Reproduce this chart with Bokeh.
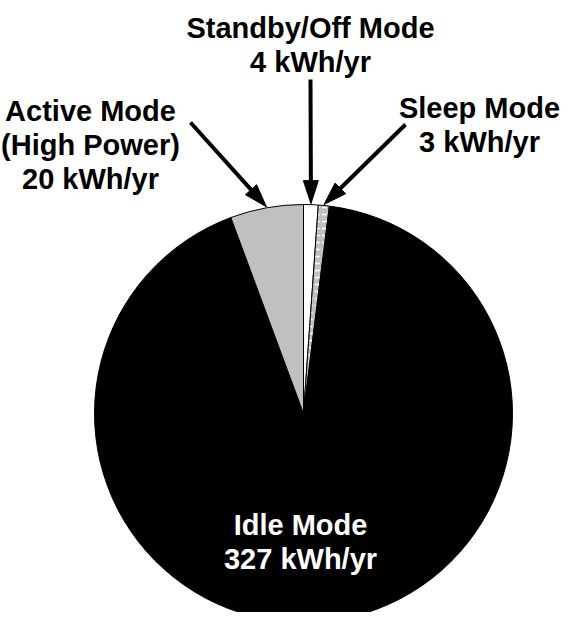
import numpy as np
from bokeh.plotting import figure
from bokeh.models import Range1d
from bokeh.embed import file_html
from bokeh.resources import INLINE
from bokeh.core.properties import value

# ---- data ----
modes = ["Standby/Off Mode", "Sleep Mode", "Idle Mode", "Active Mode (High Power)"]
kwh = [4, 3, 327, 20]
label_lines = [["Standby/Off Mode"], ["Sleep Mode"], ["Idle Mode"], ["Active Mode", "(High Power)"]]
unit = "kWh/yr"
fill_colors = ["white", "#c0c0c0", "black", "#c0c0c0"]
hatches = ["blank", "horizontal_dash", "blank", "blank"]
text_colors = ["black", "black", "white", "black"]

# ---- layout (page pixel positions) ----
W, H = 564, 612


def px(x):
    return x - 8


def py(y):
    return 620 - y


cx, cy, R = px(311), py(421), 209
label_pos = [(318, 35), (487, 115), (308, 532), (98, 118)]  # first baseline
line_step = 34
arrow_from = {0: (318, 87), 1: (413, 132), 3: (198, 130)}

vals = np.array(kwh, dtype=float)
ang = vals / vals.sum() * 2 * np.pi
cum = np.cumsum(ang)
start = np.pi / 2 - np.concatenate([[0.0], cum[:-1]])
end = np.pi / 2 - cum
mid = (start + end) / 2

p = figure(width=W, height=H, x_range=Range1d(0, W), y_range=Range1d(0, H),
           output_backend="svg", toolbar_location=None,
           x_axis_location=None, y_axis_location=None, min_border=0,
           outline_line_color=None)
p.xgrid.visible = False
p.ygrid.visible = False
p.background_fill_color = "white"
p.border_fill_color = "white"

p.wedge(x=cx, y=cy, radius=R, start_angle=list(start), end_angle=list(end),
        direction="clock", fill_color=fill_colors, line_color="black",
        line_width=1, hatch_pattern=hatches, hatch_color="white",
        hatch_scale=7, hatch_weight=1.5)

# labels
xs, ys, ts, cs = [], [], [], []
for i, lines in enumerate(label_lines):
    allines = lines + [f"{kwh[i]} {unit}"]
    lx, ly = label_pos[i]
    for j, t in enumerate(allines):
        xs.append(px(lx))
        ys.append(py(ly + j * line_step))
        ts.append(t)
        cs.append(text_colors[i])
p.text(x=xs, y=ys, text=ts, text_color=cs, text_align="center",
       text_baseline="alphabetic", text_font=value("Liberation Sans"),
       text_font_style="bold", text_font_size="29px")

# arrows
sx0, sy0, sx1, sy1 = [], [], [], []
hx, hy = [], []
head_len, head_half = 23, 7.5
for i, (ax, ay) in arrow_from.items():
    tx = cx + (R + 1) * np.cos(mid[i])
    ty = cy + (R + 1) * np.sin(mid[i])
    ox, oy = px(ax), py(ay)
    d = np.array([tx - ox, ty - oy])
    d = d / np.hypot(*d)
    n = np.array([-d[1], d[0]])
    bx, by = tx - head_len * d[0], ty - head_len * d[1]
    sx0.append(ox); sy0.append(oy)
    sx1.append(bx + 2 * d[0]); sy1.append(by + 2 * d[1])
    hx.append([tx, bx + head_half * n[0], bx - head_half * n[0]])
    hy.append([ty, by + head_half * n[1], by - head_half * n[1]])
p.segment(x0=sx0, y0=sy0, x1=sx1, y1=sy1, line_color="black", line_width=4,
          line_cap="butt")
p.patches(xs=hx, ys=hy, fill_color="black", line_color="black", line_width=1)

open("out.html", "w").write(file_html(p, INLINE))
